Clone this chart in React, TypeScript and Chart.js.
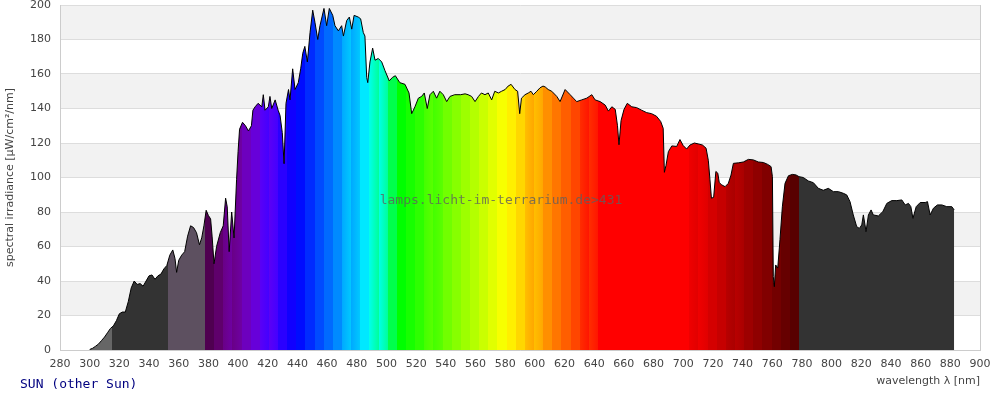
import React, { useEffect, useRef } from "react";
import { Chart, registerables } from "chart.js";

Chart.register(...registerables);

// ---- data ----
const wavelengths: number[] = [
  300, 302, 304, 306, 308, 310, 312, 314, 316, 318,
  320, 322, 324, 326, 328, 330, 332, 334, 336, 338,
  340, 342, 344, 346, 348, 350, 352, 354, 356, 357.5,
  358.6, 360, 362, 364, 366, 368, 370, 372, 374, 375.5,
  377, 378.5, 380, 381.5, 382.5, 383.8, 385.5, 388, 390, 391.6,
  392.7, 394, 395.7, 397.3, 399, 400, 401, 403, 405, 407,
  409, 410, 411.5, 413.5, 416, 417, 418.2, 420.4, 421.5, 422.7,
  425, 427, 428.3, 429.8, 431, 432.3, 434, 435, 436.8, 438.4,
  440.6, 442.2, 443.6, 445, 446.7, 448.5, 450.3, 451.8, 453.7, 455.2,
  457.9, 459.7, 461.5, 463.8, 465.3, 467.6, 469.8, 471, 473.2, 475,
  476.6, 478.2, 481, 482.6, 484.4, 485.5, 486.7, 487.4, 488.9, 490.7,
  492.3, 494.5, 496.8, 499, 501.9, 504, 506, 509, 512.5, 515.2,
  517, 519.2, 521.5, 523.7, 525.5, 527.5, 529.3, 531.6, 533.8, 536,
  538.3, 540.6, 542.8, 546, 550, 553, 555, 557.4, 559.7, 562,
  564, 566.4, 568.6, 570.9, 573, 575.4, 577.6, 580, 582, 584,
  586.6, 588.4, 589.8, 591, 593.4, 595.6, 597.4, 599, 601.3, 603.5,
  605.5, 607, 609, 611.4, 614.8, 617, 620.4, 623.8, 626, 628.2,
  631.6, 635, 638.4, 640.6, 644, 647.4, 649.6, 651.9, 654.2, 655.7,
  656.7, 658.1, 660.1, 662.3, 665.3, 668.6, 672, 675.4, 678.7, 682,
  684.8, 686.5, 687.3, 688.4, 690, 692.3, 695.6, 697.8, 700, 702.3,
  704.5, 707.5, 710.5, 713, 715.4, 716.9, 718, 719, 720.5, 722,
  723.3, 724.3, 726, 728.2, 730.4, 732.2, 733.8, 737.2, 740.5, 743.9,
  747.3, 750.6, 754, 756.9, 759.2, 760.1, 760.7, 761.4, 762.3, 763.7,
  765.2, 766.8, 768.6, 770.9, 773.5, 776, 778, 780.9, 784.3, 787.7,
  791.1, 794.4, 797.8, 801.2, 804.6, 808, 810.2, 812.4, 814.6, 816.9,
  818.7, 820.3, 821.4, 822.5, 823.2, 824.8, 826.6, 828.1, 831.5, 834.5,
  837.2, 840.5, 843.9, 847.3, 849.6, 851.8, 853.4, 854.8, 857, 859.7,
  863.1, 864.6, 866.4, 868.6, 871.3, 874.3, 877.6, 881, 882.6,
];

const irradiance: number[] = [
  0.3, 1, 2.2, 3.5, 5.5, 7.5, 10, 12.5, 14, 17,
  21, 22, 22, 28, 36, 40, 38, 38.5, 37, 40,
  43, 43.5, 41, 43, 44, 47, 49, 55, 58, 53,
  45, 52, 55, 57, 66, 72, 71, 68, 61, 65,
  72, 81, 78, 76, 66, 50, 60, 68, 72, 88,
  83, 57, 80, 65, 99, 115, 128, 132, 130, 127,
  130, 139, 141, 143, 141, 148, 139, 141, 147, 140,
  145, 139, 136, 126, 108, 143, 151, 145, 163, 151,
  155, 163, 172, 176, 167, 184, 197, 190, 180, 188,
  198, 188, 198, 194, 188, 185, 188, 182, 191, 193,
  186, 194, 193, 192, 184, 182, 158, 155, 167, 175,
  168, 169, 167, 162, 156, 158, 159, 155, 154, 149,
  137, 141, 146, 147, 149, 140, 148, 150, 146, 150,
  148, 144, 147, 148, 148, 148.5, 148, 147, 144, 147,
  149, 148, 149, 145, 150, 149, 150, 151, 153, 154,
  151, 150, 137, 146, 148, 149, 150, 148, 150, 152,
  153, 152.5, 151, 150, 147, 144, 151, 148, 146, 144,
  145, 146, 148, 145, 144, 142, 138.5, 141, 139.5, 130,
  119, 133, 139.5, 143, 141, 140.5, 139, 137.6, 137, 135.5,
  132.5, 128.5, 103, 107, 115, 118.3, 118, 122, 118.5, 116.5,
  118.8, 120, 119.4, 118.8, 117, 110, 99, 88, 88.5, 103.5,
  102.5, 97, 95.7, 94.7, 96.6, 101.4, 108.2, 108.5, 109, 110.5,
  110.2, 109, 108.7, 107.6, 106.3, 100.5, 42.5, 36.7, 49.3, 47.5,
  64, 83, 96.6, 101, 101.8, 101.5, 100.5, 100, 98, 97,
  93.7, 92.6, 93.7, 91.8, 91.8, 90.8, 89.9, 86, 78.3, 71.5,
  70.5, 72.5, 78.3, 72.5, 68.6, 78.3, 81.2, 78.3, 77.7, 80.2,
  85, 86.6, 86.6, 87, 84.1, 85, 83.1, 76.3, 83.1, 85.5,
  85.5, 86, 78.3, 82.2, 84.1, 84.1, 83.1, 83.1, 81.2,
];

const xTicks: number[] = [280, 300, 320, 340, 360, 380, 400, 420, 440, 460, 480, 500, 520, 540, 560, 580, 600, 620, 640, 660, 680, 700, 720, 740, 760, 780, 800, 820, 840, 860, 880, 900];
const yTicks: number[] = [0, 20, 40, 60, 80, 100, 120, 140, 160, 180, 200];

// colour regions (wavelength edges in nm)
const uvEdges: number[] = [280, 315, 352.6, 377.7];
const uvColors: string[] = ["#666666", "#333333", "#5d5060"];
const visibleStart = 377.7;
const visibleEnd = 778;
const visibleBandCount = 65;
const irColor = "#333333";

const seriesLabel = "SUN (other Sun)";
const watermark = "lamps.licht-im-terrarium.de>431";
const xTitle = "wavelength λ [nm]";
const yTitle = "spectral irradiance [µW/cm²/nm]";

function wavelengthColor(w: number): string {
  let r = 0, g = 0, b = 0;
  if (w < 440) { r = (440 - w) / 60; b = 1; }
  else if (w < 490) { g = (w - 440) / 50; b = 1; }
  else if (w < 510) { g = 1; b = (510 - w) / 20; }
  else if (w < 580) { r = (w - 510) / 70; g = 1; }
  else if (w < 645) { r = 1; g = (645 - w) / 65; }
  else { r = 1; }
  let f = 1;
  if (w < 420) f = 0.3 + (0.7 * (w - 380)) / 40;
  else if (w > 700) f = 0.3 + (0.7 * (780 - w)) / 80;
  f = Math.max(0.25, Math.min(1, f));
  const c = (v: number) => Math.round(Math.max(0, Math.min(1, v)) * f * 255);
  return `rgb(${c(r)},${c(g)},${c(b)})`;
}

function spectrumFill(chart: any) {
  const area = chart.chartArea;
  const xs = chart.scales?.x;
  if (!area || !xs) return "#333333";
  const { ctx } = chart;
  const grad = ctx.createLinearGradient(area.left, 0, area.right, 0);
  const w = area.right - area.left;
  const pos = (nm: number) => Math.max(0, Math.min(1, (xs.getPixelForValue(nm) - area.left) / w));
  const segs: [number, number, string][] = [];
  for (let i = 0; i < uvColors.length; i++) segs.push([uvEdges[i], uvEdges[i + 1], uvColors[i]]);
  const bw = (visibleEnd - visibleStart) / visibleBandCount;
  for (let k = 0; k < visibleBandCount; k++) {
    const a = visibleStart + k * bw;
    segs.push([a, a + bw, wavelengthColor(a + bw / 2)]);
  }
  segs.push([visibleEnd, 900, irColor]);
  for (const [a, b, c] of segs) {
    grad.addColorStop(pos(a), c);
    grad.addColorStop(pos(b), c);
  }
  return grad;
}

const overlayPlugin = {
  id: "overlay",
  beforeDraw(chart: any) {
    const { ctx, chartArea: a, scales } = chart;
    const y = scales.y;
    ctx.save();
    ctx.fillStyle = "#ffffff";
    ctx.fillRect(0, 0, chart.width, chart.height);
    ctx.fillStyle = "#f2f2f2";
    for (let i = 1; i < yTicks.length - 1; i += 2) {
      const top = y.getPixelForValue(yTicks[i + 1]);
      const bot = y.getPixelForValue(yTicks[i]);
      ctx.fillRect(a.left, top, a.right - a.left, bot - top);
    }
    ctx.strokeStyle = "#cccccc";
    ctx.lineWidth = 1;
    ctx.beginPath();
    ctx.moveTo(Math.round(a.right) + 0.5, a.top);
    ctx.lineTo(Math.round(a.right) + 0.5, a.bottom);
    ctx.stroke();
    ctx.restore();
  },
  afterDraw(chart: any) {
    const { ctx } = chart;
    ctx.save();
    ctx.font = '13px "DejaVu Sans Mono", monospace';
    ctx.textAlign = "center";
    ctx.textBaseline = "middle";
    ctx.fillStyle = "rgba(95,95,95,0.8)";
    ctx.fillText(watermark, chart.width / 2 + 1, chart.height / 2 + 1);
    ctx.textAlign = "left";
    ctx.fillStyle = "#000080";
    ctx.fillText(seriesLabel, 20, 385);
    ctx.restore();
  },
};

export default function App() {
  const ref = useRef<HTMLCanvasElement | null>(null);
  useEffect(() => {
    if (!ref.current) return;
    const n = Math.min(wavelengths.length, irradiance.length);
    const points = [];
    for (let i = 0; i < n; i++) points.push({ x: wavelengths[i], y: irradiance[i] });
    const tickFont = { family: '"DejaVu Sans", sans-serif', size: 11 };
    const chart = new Chart(ref.current, {
      type: "line",
      data: {
        datasets: [
          {
            data: points,
            borderColor: "#000000",
            borderWidth: 1,
            pointRadius: 0,
            tension: 0,
            fill: "origin",
            backgroundColor: (c: any) => spectrumFill(c.chart),
          },
        ],
      },
      options: {
        animation: false,
        responsive: false,
        devicePixelRatio: 1,
        layout: { padding: { top: 5, right: 20, left: 0, bottom: 0 } },
        plugins: { legend: { display: false }, tooltip: { enabled: false }, title: { display: false } },
        scales: {
          x: {
            type: "linear",
            min: 280,
            max: 900,
            grid: { display: false, drawTicks: false },
            border: { display: true, color: "#cccccc" },
            ticks: { font: tickFont, color: "#444444", padding: 8, autoSkip: false, maxRotation: 0 },
            afterBuildTicks: (s: any) => { s.ticks = xTicks.map((v) => ({ value: v })); },
            afterFit: (s: any) => { s.height = 50; s.paddingLeft = 0; s.paddingRight = 0; },
            title: {
              display: true,
              text: xTitle,
              align: "end",
              color: "#444444",
              font: tickFont,
              padding: { top: 0, bottom: 12 },
            },
          },
          y: {
            type: "linear",
            min: 0,
            max: 200,
            grid: { color: "#dddddd", drawTicks: false },
            border: { display: true, color: "#cccccc" },
            ticks: { font: tickFont, color: "#444444", padding: 9 },
            afterBuildTicks: (s: any) => { s.ticks = yTicks.map((v) => ({ value: v })); },
            afterFit: (s: any) => { s.width = 60; s.paddingTop = 0; s.paddingBottom = 0; },
            title: {
              display: true,
              text: yTitle,
              color: "#444444",
              font: tickFont,
              padding: { top: 4, bottom: 0 },
            },
          },
        },
      } as any,
      plugins: [overlayPlugin],
    });
    return () => chart.destroy();
  }, []);
  return (
    <div style={{ position: "fixed", left: 0, top: 0, width: 1000, height: 400, background: "#fff" }}>
      <canvas ref={ref} width={1000} height={400} style={{ display: "block" }} />
    </div>
  );
}
